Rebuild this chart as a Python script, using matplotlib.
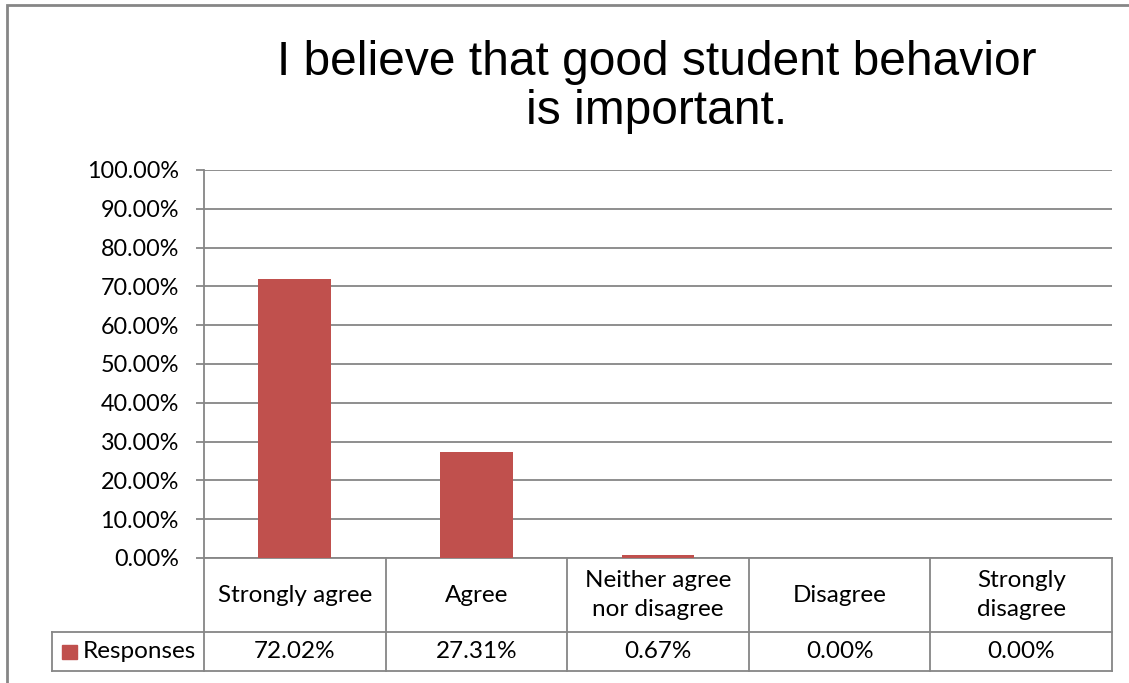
import matplotlib.pyplot as plt
from matplotlib.patches import Rectangle

categories = ['Strongly agree', 'Agree', 'Neither agree\nnor disagree', 'Disagree', 'Strongly\ndisagree']
values = [72.02, 27.31, 0.67, 0.00, 0.00]
series_name = 'Responses'
title = 'I believe that good student behavior\nis important.'

bar_color = '#C0504D'
line_color = '#868686'
font = ['Lato', 'DejaVu Sans']
fs = 16.8
fs_table = 17.5

W, H = 1129, 683
fig = plt.figure(figsize=(W / 100, H / 100), dpi=100)

# outer chart border (cut off on the right and bottom like the original)
fig.patches.append(Rectangle((7 / W, -0.1), 1.2, 1 - 5 / H + 0.1, transform=fig.transFigure,
                             fill=False, edgecolor=line_color, linewidth=2))

ax = fig.add_axes([204 / W, 1 - 558 / H, 908 / W, 388 / H])
x = range(len(categories))
ax.bar(x, values, width=0.4, color=bar_color, zorder=3)
ax.set_xlim(-0.5, len(categories) - 0.5)
ax.set_ylim(0, 100)
ax.set_yticks(range(0, 101, 10))
ax.set_yticklabels([f'{v:.2f}%' for v in range(0, 101, 10)], fontsize=fs, family=font)
ax.yaxis.grid(True, color=line_color, linewidth=1.3)
ax.set_xticks([])
ax.tick_params(axis='y', length=6, color=line_color, width=1.3, pad=12)
for s in ['top', 'right', 'bottom']:
    ax.spines[s].set_visible(False)
ax.spines['left'].set_color(line_color)
ax.spines['left'].set_linewidth(1.3)

# data table below the plot
tr = ax.get_xaxis_transform()
px = 1 / 388
y_row1 = -74 * px
y_row2 = -113 * px
x_leg = -0.5 - (204 - 52) / 181.6
n = len(categories)
kw = dict(transform=tr, color=line_color, linewidth=1.3, clip_on=False)
ax.plot([-0.5, n - 0.5], [0, 0], **kw)
ax.plot([x_leg, n - 0.5], [y_row1, y_row1], **kw)
ax.plot([x_leg, n - 0.5], [y_row2, y_row2], **kw)
ax.plot([x_leg, x_leg], [y_row1, y_row2], **kw)
for i in range(n + 1):
    ax.plot([i - 0.5, i - 0.5], [0, y_row2], **kw)

for i, (c, v) in enumerate(zip(categories, values)):
    ax.text(i, y_row1 / 2, c, transform=tr, ha='center', va='center',
            fontsize=fs_table, family=font, linespacing=1.45)
    ax.text(i, (y_row1 + y_row2) / 2, f'{v:.2f}%', transform=tr, ha='center', va='center',
            fontsize=fs_table, family=font)

ax.add_patch(Rectangle((x_leg + 10 / 181.6, (y_row1 + y_row2) / 2 - 7 * px), 15 / 181.6, 14 * px,
                       transform=tr, color=bar_color, clip_on=False))
ax.text(x_leg + 31 / 181.6, (y_row1 + y_row2) / 2, series_name, transform=tr,
        ha='left', va='center', fontsize=fs_table, family=font)

fig.text(657 / W, 1 - 87 / H, title, ha='center', va='center', fontsize=34.5,
         family=['Liberation Sans', 'DejaVu Sans'], linespacing=1.12)

fig.savefig('out.png', dpi=100)
